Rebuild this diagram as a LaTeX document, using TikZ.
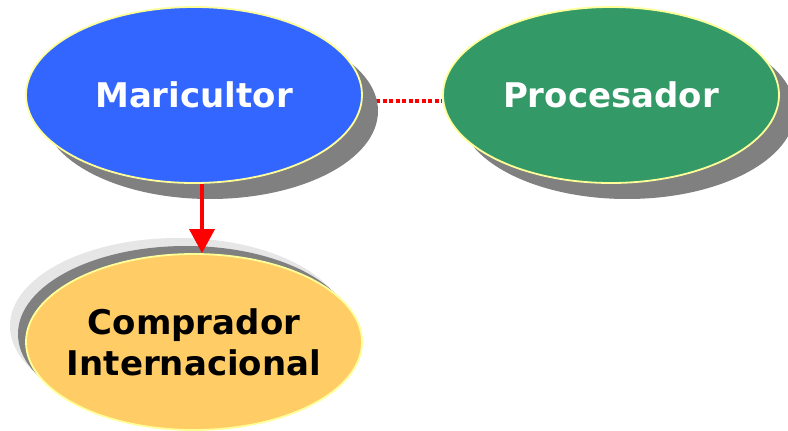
\documentclass[tikz,border=0pt]{standalone}
\usepackage{fontspec}
\setmainfont{DejaVu Sans}
\usepackage{tikz}
\usetikzlibrary{shapes.geometric, arrows.meta, shadows, backgrounds}
\definecolor{azul}{HTML}{3366FF}
\definecolor{verde}{HTML}{339966}
\definecolor{amarillo}{HTML}{FFCC66}
\definecolor{borde}{HTML}{FFFF99}
\definecolor{sombra}{HTML}{808080}
\definecolor{sombraclara}{HTML}{E6E6E6}
\tikzstyle{actor} = [ellipse, minimum width=336pt, minimum height=176pt, draw=borde, line width=1.8pt, align=center, font=\fontsize{34}{41}\selectfont\bfseries]
\tikzstyle{sombrado} = [drop shadow={shadow xshift=16pt, shadow yshift=-16pt, fill=sombra, opacity=1}]
\tikzstyle{arrow} = [red, line width=3.5pt, -{Triangle[width=25pt,length=24pt]}]
\tikzstyle{enlace} = [red, line width=4pt, dash pattern=on 4pt off 2.5pt]

\begin{document}
\begin{tikzpicture}[x=1pt, y=-1pt]
    \useasboundingbox (0,0) rectangle (788,431);
    \node (maricultor) [actor, sombrado, fill=azul, text=white] at (194,95) {Maricultor};
    \node (procesador) [actor, sombrado, fill=verde, text=white] at (611,95) {Procesador};
    \node (comprador) [actor, fill=amarillo, text=black,
        drop shadow={shadow xshift=-16pt, shadow yshift=16pt, fill=sombraclara, opacity=1},
        drop shadow={shadow xshift=-8pt, shadow yshift=8pt, fill=sombra, opacity=1}] at (194,342)
        {\makebox[0pt]{Comprador}\\\makebox[0pt]{Internacional}};

    \begin{scope}[on background layer]
        \draw [enlace] ([yshift=-6pt]maricultor.center) -- ([yshift=-6pt]procesador.west);
    \end{scope}
    \draw [arrow] ([xshift=8pt]maricultor.south) -- ([xshift=8pt]comprador.north);
\end{tikzpicture}
\end{document}
